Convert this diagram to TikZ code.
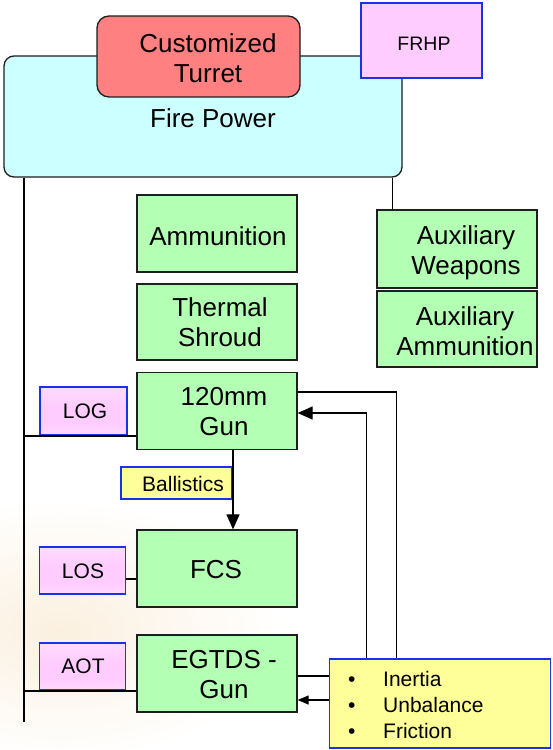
\documentclass[tikz,border=0pt]{standalone}
\usepackage{fontspec}
\setmainfont{Liberation Sans}
\usetikzlibrary{arrows.meta}
\definecolor{gfill}{RGB}{179,255,179}
\definecolor{cfill}{RGB}{204,255,255}
\definecolor{rfill}{RGB}{255,128,128}
\definecolor{pfill}{RGB}{255,204,255}
\definecolor{yfill}{RGB}{255,255,153}
\definecolor{tblue}{RGB}{25,50,230}
\definecolor{edge}{RGB}{30,30,30}
\definecolor{beige}{RGB}{251,240,224}
\pgfdeclareverticalshading{tagshade}{100bp}{color(0bp)=(white); color(30bp)=(pfill!85); color(38bp)=(pfill); color(55bp)=(pfill); color(100bp)=(pfill!35)}
\begin{document}
\begin{tikzpicture}[x=1pt,y=-1pt,
  big/.style={font=\fontsize{26}{30}\selectfont, align=center, inner sep=0pt},
  mid/.style={font=\fontsize{21}{26}\selectfont, align=center, inner sep=0pt},
  gbox/.style={draw=edge, fill=gfill, line width=1.3pt, minimum width=160pt, minimum height=77pt, inner sep=0pt},
  tagbox/.style={draw=tblue, line width=1.8pt, shading=tagshade, minimum width=86pt, minimum height=47pt, inner sep=0pt},
  conn/.style={draw=black, line width=1.2pt},
  bus/.style={draw=black, line width=1.8pt},
  arr/.style={conn, -{Triangle[width=13pt,length=15pt]}},
  sarr/.style={conn, -{Triangle[width=9pt,length=11pt]}}
]
\useasboundingbox (0,0) rectangle (552,750);
\fill[white] (0,0) rectangle (552,750);
\shade[inner color=beige, outer color=white] (60,630) ellipse (220pt and 130pt);

% Fire power group
\node[draw=edge, fill=cfill, line width=1.3pt, rounded corners=10pt, minimum width=398pt, minimum height=121pt] (fp) at (203,116.5) {};
\node[big] (fpt) at (213,118) {Fire Power};
\node[draw=edge, fill=rfill, line width=1.3pt, rounded corners=12pt, minimum width=203pt, minimum height=81pt] (tur) at (198.5,56.5) {};
\node[big] (turt) at (208,58) {Customized\\Turret};
\node[draw=tblue, fill=pfill, line width=1.6pt, minimum width=121pt, minimum height=75pt] (frhp) at (421.5,40.5) {};
\node[font=\fontsize{19.5}{22}\selectfont, inner sep=0pt] (frhpt) at (424,44) {FRHP};

% Green boxes
\node[gbox] (amm) at (217,233.5) {};
\node[big] (ammt) at (218,236) {Ammunition};
\node[gbox, minimum height=76pt] (ths) at (217,322) {};
\node[big] (thst) at (220,322) {Thermal\\ Shroud};
\node[gbox, minimum height=78pt] (auxw) at (457,249) {};
\node[big] (auxwt) at (466,252.5) {Auxiliary\\Weapons};
\node[gbox, minimum height=76pt] (auxa) at (457,329) {};
\node[big] (auxat) at (465,331) {Auxiliary\\Ammunition};
\node[gbox] (gun) at (217,411) {};
\node[big] (gunt) at (224,412) {120mm\\Gun};
\node[gbox] (fcs) at (217,568.5) {};
\node[big] (fcst) at (216,570) {FCS};
\node[gbox] (egt) at (217,673.5) {};
\node[big] (egtt) at (224,674.5) {EGTDS -\\Gun};

% Tags
\node[tagbox, minimum width=87pt, minimum height=48pt] (log) at (83.5,411) {};
\node[mid] (logt) at (85,411) {LOG};
\node[tagbox] (los) at (82.5,570.5) {};
\node[mid] (lost) at (83,571) {LOS};
\node[tagbox] (aot) at (82.5,666.5) {};
\node[mid] (aott) at (83,666) {AOT};

% Connectors
\coordinate (lend) at (24,722);
\draw[bus] (fp.south -| lend) -- (lend);
\draw[conn] (lend |- log.south) -- (gun.west |- log.south);
\draw[conn] (lend |- aot.south) -- (egt.west |- aot.south);
\draw[conn] ([yshift=-8.5]los.east) -- ([yshift=-10.5]fcs.west);
\draw[conn] ([xshift=16]auxw.north west) -- ([xshift=16]auxw.north west |- fp.south);

% Ballistics
\node[draw=tblue, fill=yfill, line width=1.6pt, minimum width=111pt, minimum height=32pt, inner sep=0pt] (bal) at (176.5,483) {};
\node[mid] (balt) at (183,484) {Ballistics};
\draw[arr] ([xshift=16]gun.south) -- ([xshift=16]fcs.north);

% Disturbance box
\node[draw=tblue, fill=yfill, line width=1.6pt, minimum width=221pt, minimum height=89pt, inner sep=0pt] (inb) at (440,703.5) {};
\node[mid, align=left, anchor=west] (inbt) at (348,704.5) {\makebox[35pt][l]{\textbullet}Inertia\\\makebox[35pt][l]{\textbullet}Unbalance\\\makebox[35pt][l]{\textbullet}Friction};

\draw[conn] ([yshift=19]gun.east) -| ([xshift=68]inb.north west);
\draw[arr] ([xshift=38]inb.north west) |- ([yshift=-2]gun.east);
\path ([yshift=-2.5]egt.east) coordinate (e1);
\path ([yshift=-26.5]egt.east) coordinate (e2);
\draw[conn] (e1) -- (e1 -| inb.west);
\draw[sarr] (e2 -| inb.west) -- (e2);
\end{tikzpicture}
\end{document}
